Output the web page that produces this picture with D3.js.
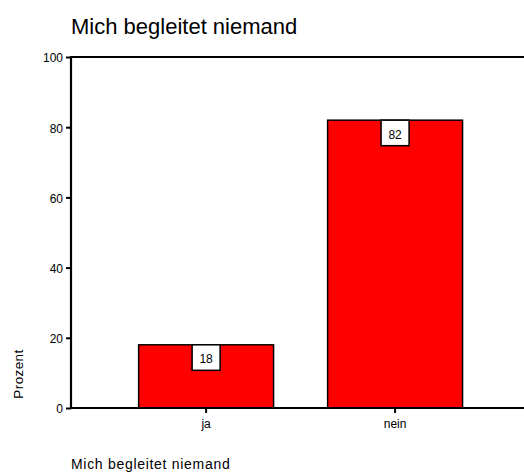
<!DOCTYPE html>
<html>
<head>
<meta charset="utf-8">
<script src="https://cdn.jsdelivr.net/npm/d3@7"></script>
<style>
  body { margin: 0; background: #fff; }
  text { font-family: "Liberation Sans", Arial, sans-serif; fill: #000; }
</style>
</head>
<body>
<svg></svg>
<script>
const categories = ['ja', 'nein']
const percents = [18, 82]
const yTicks = [0, 20, 40, 60, 80, 100]

let width = 524
let height = 473
let plotLeft = 71
let plotTop = 57
let plotBottom = 408

let svg = d3.select('svg')
    .attr('width', width)
    .attr('height', height)

// x scale: categories
let xScale = d3.scaleBand()
                .domain(categories)
                .range([84.6, 516.6])
                .padding(0.286)

// y scale: percent
let yScale = d3.scaleLinear()
                .domain([0, 100])
                .range([plotBottom, plotTop])

// bars
svg.selectAll('rect.bar')
  .data(percents)
  .enter()
  .append('rect')
    .attr('class', 'bar')
    .attr('x', (d, i) => xScale(categories[i]))
    .attr('y', d => yScale(d))
    .attr('width', xScale.bandwidth())
    .attr('height', d => plotBottom - yScale(d))
    .attr('fill', '#ff0000')
    .attr('stroke', '#000')
    .attr('stroke-width', 1.5)

// value boxes
let labels = svg.selectAll('g.lab')
  .data(percents)
  .enter()
  .append('g')
    .attr('class', 'lab')
    .attr('transform', (d, i) =>
      `translate(${xScale(categories[i]) + xScale.bandwidth() / 2}, ${yScale(d)})`)

labels.append('rect')
    .attr('x', -14)
    .attr('y', 0)
    .attr('width', 28)
    .attr('height', 25.5)
    .attr('fill', '#fff')
    .attr('stroke', '#000')
    .attr('stroke-width', 1.5)

labels.append('text')
    .attr('x', 0)
    .attr('y', 18.5)
    .style('text-anchor', 'middle')
    .style('font-size', '12px')
    .text(d => d)

// y axis
let yAxis = d3.axisLeft(yScale)
              .tickValues(yTicks)
              .tickSize(5)
              .tickSizeOuter(0)
              .tickPadding(3)

let yG = svg.append('g')
    .attr('transform', `translate(${plotLeft}, 0)`)
    .call(yAxis)
yG.select('.domain').remove()
yG.selectAll('line').attr('stroke', '#000').attr('stroke-width', 2)
yG.selectAll('text')
    .style('font-size', '12px')
    .style('font-family', '"Liberation Sans", Arial, sans-serif')
    .attr('dy', '0.4em')

// x axis
let xAxis = d3.axisBottom(xScale)
              .tickSize(5)
              .tickSizeOuter(0)
              .tickPadding(6)

let xG = svg.append('g')
    .attr('transform', `translate(0, ${plotBottom})`)
    .call(xAxis)
xG.select('.domain').remove()
xG.selectAll('line').attr('stroke', '#000').attr('stroke-width', 2)
xG.selectAll('text')
    .style('font-size', '12px')
    .style('font-family', '"Liberation Sans", Arial, sans-serif')

// frame lines
svg.append('path')
    .attr('d', `M${width + 2},${plotTop}H${plotLeft}V${plotBottom}H${width + 2}`)
    .attr('fill', 'none')
    .attr('stroke', '#000')
    .attr('stroke-width', 2.2)

// title
svg.append('text')
    .attr('x', plotLeft)
    .attr('y', 34)
    .style('font-size', '22px')
    .text('Mich begleitet niemand')

// y axis label
svg.append('text')
    .attr('transform', 'rotate(-90)')
    .attr('x', -374)
    .attr('y', 23)
    .style('text-anchor', 'middle')
    .style('font-size', '13.5px')
    .style('letter-spacing', '0.4px')
    .text('Prozent')

// x axis label
svg.append('text')
    .attr('x', plotLeft)
    .attr('y', 469)
    .style('font-size', '14px')
    .style('letter-spacing', '0.7px')
    .text('Mich begleitet niemand')
</script>
</body>
</html>
